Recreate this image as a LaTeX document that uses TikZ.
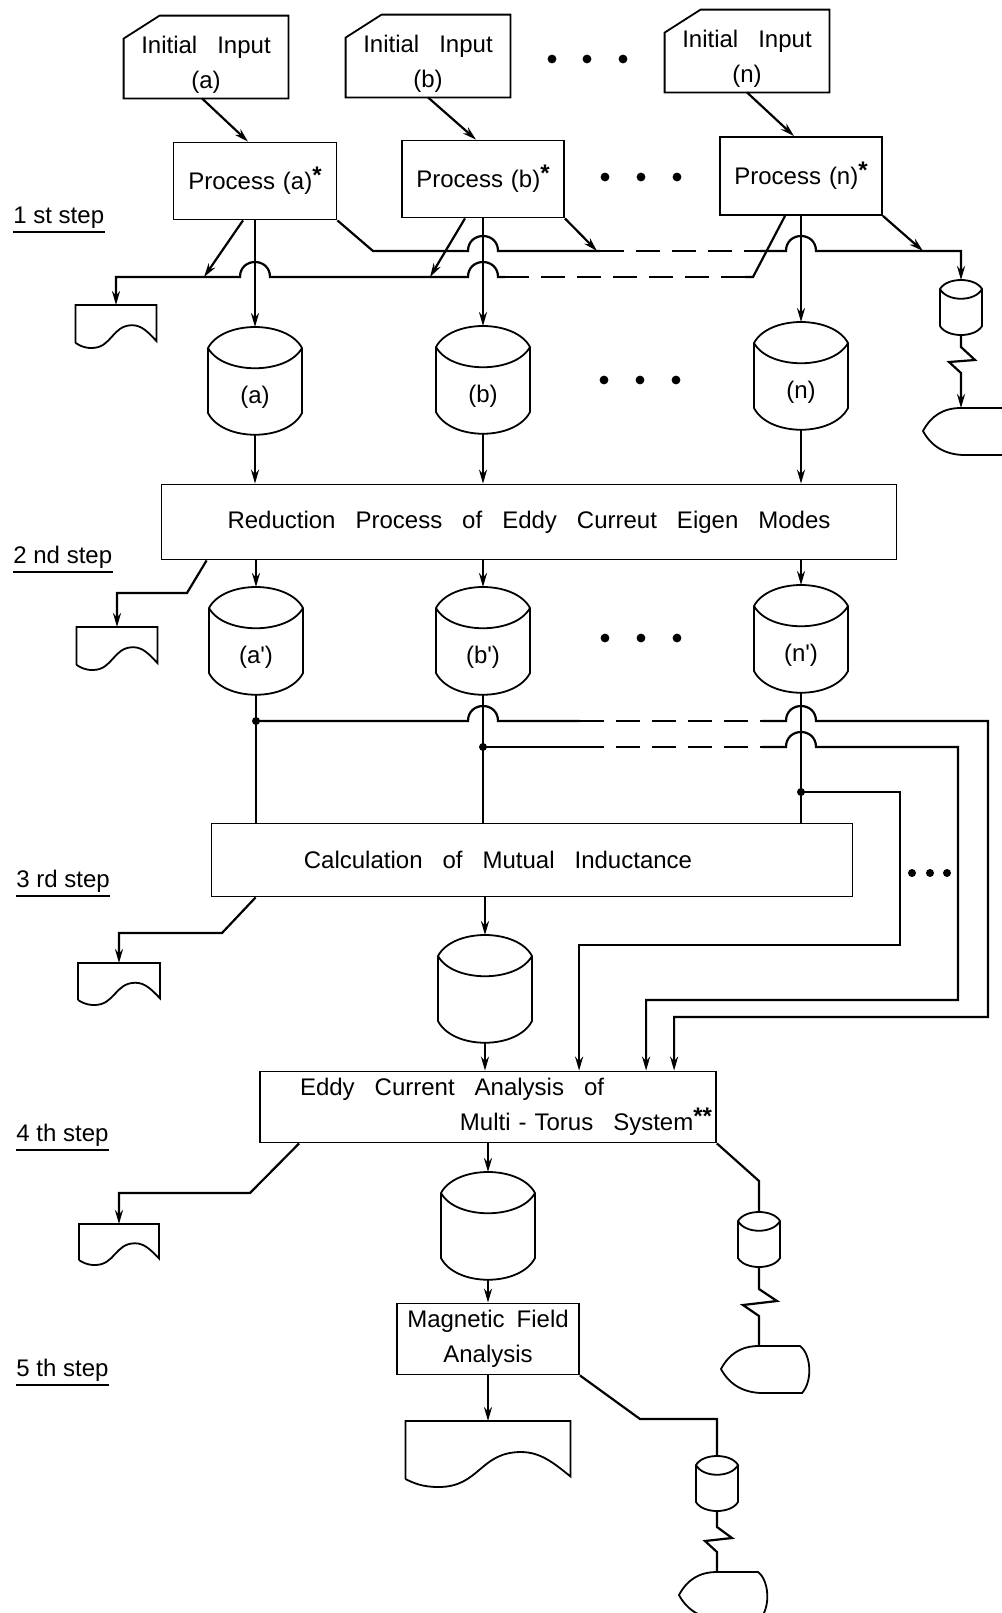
\documentclass[tikz,border=0pt]{standalone}
\usepackage{fontspec}
\setmainfont{Liberation Sans}[WordSpace=3]
\newfontfamily\stepfont{Liberation Sans}
\usetikzlibrary{arrows.meta,calc}

\newlength{\upx}
\setlength{\upx}{0.5pt}

\newcommand{\twoline}[2]{\begin{tabular}[b]{@{}c@{}}#1\\#2\end{tabular}}
\newcommand{\supstar}[1]{\raisebox{3pt}{\bfseries #1}}

% hop over a vertical line at x=#1, line at y=#2
\newcommand{\hopR}[2]{-- (#1-15,#2) .. controls (#1-15,#2-20) and (#1+15,#2-20) .. (#1+15,#2)}
\newcommand{\hopL}[2]{-- (#1+15,#2) .. controls (#1+15,#2-20) and (#1-15,#2-20) .. (#1-15,#2)}

% card outline (cut corner) round a node
\newcommand{\cardframe}[1]{%
  \draw[symb] ($(#1.north west)+(0,23)$) -- ($(#1.north west)+(36,0)$) -- (#1.north east)
    -- (#1.south east) -- (#1.south west) -- cycle;
}
% disk file: name, x, y of top, label
\newcommand{\diskfile}[4]{%
  \coordinate (#1-top) at (#2,#3);
  \coordinate (#1-bot) at (#2,#3+108);
  \draw[symb] (#2-47,#3+21) .. controls (#2-32,#3-7) and (#2+32,#3-7) .. (#2+47,#3+21)
    .. controls (#2+32,#3+48) and (#2-32,#3+48) .. cycle
    (#2-47,#3+21) -- (#2-47,#3+86) .. controls (#2-32,#3+115) and (#2+32,#3+115) .. (#2+47,#3+86) -- (#2+47,#3+21);
  \node (#1) at (#2,#3+70) {#4};
}
% magnetic tape: name, x, y of top
\newcommand{\tapeunit}[3]{%
  \coordinate (#1-top) at (#2,#3);
  \coordinate (#1-bot) at (#2,#3+55);
  \draw[symb] (#2-21,#3+9) .. controls (#2-14,#3-3) and (#2+14,#3-3) .. (#2+21,#3+9)
    .. controls (#2+14,#3+22) and (#2-14,#3+22) .. cycle
    (#2-21,#3+9) -- (#2-21,#3+46) .. controls (#2-14,#3+58) and (#2+14,#3+58) .. (#2+21,#3+46) -- (#2+21,#3+9);
}
% display: name, x of incoming line, y of top
\newcommand{\dispunit}[3]{%
  \coordinate (#1) at (#2,#3);
  \draw[symb] (#2-38,#3+23) .. controls (#2-30,#3+8) and (#2-18,#3) .. (#2,#3) -- (#2+41,#3)
    .. controls (#2+52,#3+8) and (#2+54,#3+35) .. (#2+43,#3+47) -- (#2+4,#3+47)
    .. controls (#2-16,#3+47) and (#2-30,#3+38) .. cycle;
}
% printed document: name, x centre, y of top, width, height
\newcommand{\docunit}[5]{%
  \coordinate (#1) at (#2,#3);
  \draw[symb] (#2-0.5*#4,#3+0.88*#5) -- (#2-0.5*#4,#3) -- (#2+0.5*#4,#3) -- (#2+0.5*#4,#3+0.84*#5)
    .. controls (#2+0.4*#4,#3+0.64*#5) and (#2+0.32*#4,#3+0.47*#5) .. (#2+0.2*#4,#3+0.47*#5)
    .. controls (#2-0.05*#4,#3+0.47*#5) and (#2-0.05*#4,#3+#5) .. (#2-0.3*#4,#3+#5)
    .. controls (#2-0.4*#4,#3+#5) and (#2-0.45*#4,#3+0.94*#5) .. (#2-0.5*#4,#3+0.88*#5);
}

\begin{document}
\begin{tikzpicture}[x=0.5pt,y=-0.5pt,
  every node/.style={font=\fontsize{12}{17.5}\selectfont},
  symb/.style={line width=0.9pt},
  conn/.style={line width=1.1pt},
  flow/.style={conn,-{Stealth[length=7pt,width=4pt]}},
  dashline/.style={conn,dash pattern=on 12pt off 6pt},
  procbox/.style={draw,line width=0.9pt,inner sep=0pt,align=center},
  cardbox/.style={inner sep=0pt,minimum width=164\upx,minimum height=82\upx,
    text height=32pt,text depth=1pt},
  steplbl/.style={font=\stepfont\fontsize{12}{14}\selectfont,anchor=base west,
    inner xsep=0pt,inner ysep=2pt}]
\useasboundingbox (0,0) rectangle (1002,1613);

% step labels
\node[steplbl] (s1) at (13,223) {1 st step};
\node[steplbl] (s2) at (13,563) {2 nd step};
\node[steplbl] (s3) at (16,887) {3 rd step};
\node[steplbl] (s4) at (16,1141) {4 th step};
\node[steplbl] (s5) at (16,1376) {5 th step};
\foreach \s in {s1,s2,s3,s4,s5}
  \draw[conn] (\s.south west) -- (\s.south east);

% 1st step
\node[cardbox] (ina) at (206,57) {\twoline{Initial Input}{(a)}};
\node[cardbox] (inb) at (428,56) {\twoline{Initial Input}{(b)}};
\node[cardbox] (inn) at (747,51) {\twoline{Initial Input}{(n)}};
\foreach \c in {ina,inb,inn} {\cardframe{\c}}
\node[procbox,minimum width=163\upx,minimum height=77\upx] (pa) at (255,181) {Process\hspace{4pt}(a)\supstar{*}};
\node[procbox,minimum width=162\upx,minimum height=77\upx] (pb) at (483,179) {Process\hspace{4pt}(b)\supstar{*}};
\node[procbox,minimum width=162\upx,minimum height=78\upx] (pn) at (801,176) {Process\hspace{4pt}(n)\supstar{*}};
\draw[flow] ($(ina.south)+(-4,0)$) -- ($(pa.north)+(-7,0)$);
\draw[flow] (inb.south) -- ($(pb.north)+(-7,0)$);
\draw[flow] (inn.south) -- ($(pn.north)+(-7,0)$);
\foreach \x in {552,587,623} \fill (\x,59) circle[radius=2.2pt];
\foreach \x in {605,641,677} \fill (\x,177) circle[radius=2.2pt];

\diskfile{da}{255}{327}{(a)}
\diskfile{db}{483}{326}{(b)}
\diskfile{dn}{801}{322}{(n)}
\foreach \x in {604,640,676} \fill (\x,380) circle[radius=2.2pt];
\draw[flow] (pa.south) -- (da-top);
\draw[flow] (pb.south) -- (db-top);
\draw[flow] (pn.south) -- (dn-top);

\docunit{doc1}{116}{305}{81}{43}
\draw[flow] ($(pa.south)+(-12,0)$) -- (204,277);
\draw[flow] ($(pb.south)+(-18,0)$) -- (430,277);
\draw[conn] ($(pn.south)+(-16,0)$) -- (753,277) -- (745,277);
\draw[dashline] (745,277) -- (505,277);
\draw[flow] (505,277) \hopL{483}{277} \hopL{255}{277} -| (doc1);

\tapeunit{tp1}{961}{280}
\dispunit{ds1}{961}{408}
\draw[flow] (pb.south east) -- (597,251);
\draw[flow] (pn.south east) -- (923,251);
\draw[conn] (pa.south east) -- (373,251) \hopR{483}{251} -- (600,251);
\draw[dashline] (600,251) -- (760,251);
\draw[flow] (760,251) \hopR{801}{251} -| (tp1-top);
\draw[flow] (tp1-bot) -- ++(0,12) -- ++(14,13) -- ++(-26,2) -- ++(12,11) -- (ds1);

% 2nd step
\node[procbox,minimum width=735\upx,minimum height=75\upx] (red) at (529,522) {Reduction Process of Eddy Curreut Eigen Modes};
\draw[flow] (da-bot) -- (da-bot |- red.north);
\draw[flow] (db-bot) -- (db-bot |- red.north);
\draw[flow] (dn-bot) -- (dn-bot |- red.north);
\diskfile{da2}{256}{587}{(a\textquotesingle)}
\diskfile{db2}{483}{587}{(b\textquotesingle)}
\diskfile{dn2}{801}{585}{(n\textquotesingle)}
\foreach \x in {605,641,677} \fill (\x,638) circle[radius=2.2pt];
\draw[flow] (red.south -| da2-top) -- (da2-top);
\draw[flow] (red.south -| db2-top) -- (db2-top);
\draw[flow] (red.south -| dn2-top) -- (dn2-top);
\docunit{doc2}{117}{627}{81}{43}
\draw[flow] ($(red.south west)+(46,0)$) -- (187,593) -| (doc2);

% 3rd step
\node[procbox,minimum width=641\upx,minimum height=73\upx] (calc) at (532,860) {Calculation of Mutual Inductance\hspace*{34pt}};
\draw[conn] (da2-bot) -- (da2-bot |- calc.north);
\draw[conn] (db2-bot) -- (db2-bot |- calc.north);
\draw[conn] (dn2-bot) -- (dn2-bot |- calc.north);
\coordinate (j1) at (256,721);
\coordinate (j2) at (483,747);
\coordinate (j3) at (801,792);
\foreach \j in {j1,j2,j3} \fill (\j) circle[radius=2pt];
\foreach \x in {912,930,947} \fill (\x,873) circle[radius=2pt];
\docunit{doc3}{119}{963}{82}{42}
\draw[flow] ($(calc.south west)+(45,0)$) -- (222,933) -| (doc3);
\diskfile{d3}{485}{935}{}
\draw[flow] (calc.south -| d3-top) -- (d3-top);

% 4th step
\node[procbox,minimum width=456\upx,minimum height=71\upx] (eddy) at (488,1107)
  {\makebox[224pt][l]{\hspace*{18pt}Eddy Current Analysis of}\\
   \makebox[224pt][r]{Multi\hspace{4pt}-\hspace{4pt}Torus System\supstar{**}}};
\coordinate (e1) at ($(eddy.north west)+(320,0)$);
\coordinate (e2) at ($(eddy.north west)+(387,0)$);
\coordinate (e3) at ($(eddy.north west)+(415,0)$);
\draw[flow] (d3-bot) -- (d3-bot |- eddy.north);
\draw[conn] (j1) \hopR{483}{721} -- (580,721);
\draw[dashline] (580,721) -- (762,721);
\draw[flow] (762,721) \hopR{801}{721} -- (988,721) -- (988,1017) -| (e3);
\draw[conn] (j2) -- (580,747);
\draw[dashline] (580,747) -- (762,747);
\draw[flow] (762,747) \hopR{801}{747} -- (958,747) -- (958,1000) -| (e2);
\draw[flow] (j3) -- (900,792) -- (900,945) -| (e1);

\docunit{doc4}{119}{1224}{80}{41}
\draw[flow] ($(eddy.south west)+(40,0)$) -- (250,1193) -| (doc4);
\diskfile{d4}{488}{1172}{}
\draw[flow] (eddy.south -| d4-top) -- (d4-top);
\tapeunit{tp2}{759}{1212}
\dispunit{ds2}{759}{1346}
\draw[conn] (eddy.south east) -- (759,1181) -- (tp2-top);
\draw[conn] (tp2-bot) -- ++(0,22) -- ++(18,12) -- ++(-34,4) -- ++(16,11) -- (ds2);

% 5th step
\node[procbox,minimum width=182\upx,minimum height=71\upx] (mag) at (488,1339) {Magnetic\hspace{6pt}Field\\Analysis};
\draw[flow] (d4-bot) -- (d4-bot |- mag.north);
\docunit{doc5}{488}{1421}{165}{66}
\draw[flow] (mag.south) -- (doc5);
\tapeunit{tp3}{717}{1456}
\dispunit{ds3}{717}{1572}
\draw[conn] (mag.south east) -- (640,1419) -| (tp3-top);
\draw[conn] (tp3-bot) -- ++(0,16) -- ++(15,11) -- ++(-27,3) -- ++(12,11) -- (ds3);
\end{tikzpicture}
\end{document}
